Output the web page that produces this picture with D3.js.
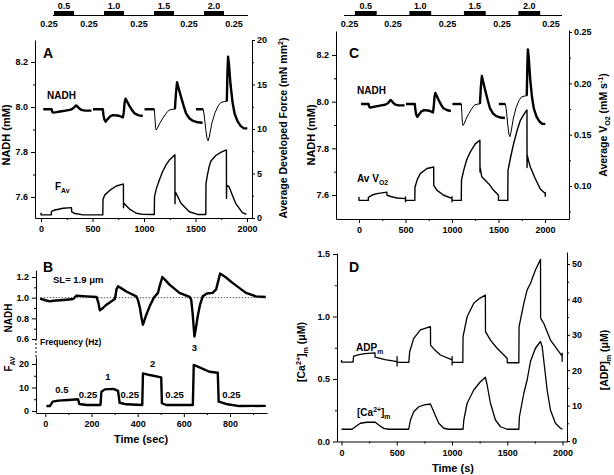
<!DOCTYPE html>
<html><head><meta charset="utf-8">
<script src="https://cdn.jsdelivr.net/npm/d3@7"></script>
<style>
body{margin:0;background:#fff;}
svg text{font-family:"Liberation Sans",Arial,sans-serif;font-weight:bold;fill:#000;}
</style></head><body>
<svg id="c" width="614" height="475"></svg>
<script>
// ---------------- DATA ----------------
const protocolFreqs = ["0.5","1.0","1.5","2.0"];
const protocolOn = [100,600,1100,1600];
const protocolOff = [300,800,1300,1800];
const restLabels = ["0.25","0.25","0.25","0.25","0.25"];
const restCenters = [50,450,950,1450,1900];

const timeTicks = [0,500,1000,1500,2000];
const timeMinor = [250,750,1250,1750];
const nadhTicks = [7.6,7.8,8.0,8.2];
const nadhMinor = [7.7,7.9,8.1];
const forceTicks = [0,5,10,15,20];
const forceMinor = [2.5,7.5,12.5,17.5];
const vo2Ticks = [0.10,0.15,0.20,0.25];
const vo2Minor = [0.075,0.125,0.175,0.225];
const caTicks = [0,0.5,1.0,1.5];
const caMinor = [0.25,0.75,1.25];
const adpTicks = [0,10,20,30,40,50];
const adpMinor = [5,15,25,35,45];
const bTimeTicks = [0,200,400,600,800];
const bTimeMinor = [100,300,500,700,900];
const bNadhTicks = [0.6,0.8,1.0,1.2];
const bNadhMinor = [0.7,0.9,1.1];
const bForceTicks = [0,10,20];
const bForceMinor = [5,15];

// NADH (mM), model trace shared by panels A and C (time s, value)
const nadhSlow = [
  [[22,7.99],[103,7.99],[110,7.978],[119,7.975],[150,7.977],[184,7.98],[240,7.984],[280,7.987],[305,7.992],[319,7.997],[338,8.007],[350,8.004],[370,7.994],[393,7.987],[425,7.984],[490,7.984]],
  [[505,7.99],[600,7.99],[606,7.965],[615,7.945],[628,7.935],[645,7.945],[670,7.958],[699,7.964],[740,7.962],[763,7.96],[795,7.954],[803,7.975],[812,8.02],[821,8.037],[835,8.025],[860,8.004],[885,7.985],[908,7.972],[950,7.963],[988,7.96]],
  [[1005,7.99],[1101,7.99]],
  [[1300,7.99],[1310,8.06],[1321,8.11],[1335,8.085],[1359,8.046],[1385,8.005],[1408,7.972],[1440,7.95],[1472,7.939],[1520,7.932],[1569,7.93]],
  [[1504,7.99],[1575,7.99]],
  [[1804,8.025],[1810,8.15],[1816,8.224],[1825,8.19],[1840,8.1],[1860,8.02],[1880,7.97],[1910,7.935],[1940,7.915],[1970,7.905],[2003,7.905]]
];
const nadhFast = [
  [[1101,7.99],[1106,7.95],[1112,7.91],[1118,7.898],[1130,7.905],[1150,7.925],[1182,7.95],[1215,7.972],[1246,7.987],[1285,7.99],[1300,7.99]],
  [[1575,7.99],[1585,7.96],[1600,7.9],[1612,7.86],[1623,7.85],[1635,7.87],[1660,7.93],[1690,7.975],[1720,8.005],[1746,8.02],[1780,8.024],[1804,8.025]]
];
// Average developed force (mN mm^-2), panel A
const forceAv = [[0,0.6],[1,0.35],[100,0.35],[102,0.75],[135,0.9],[216,1.1],[296,1.16],[298,0.7],[330,0.5],[409,0.35],[600,0.35],
  [602,2.1],[620,2.6],[667,3.1],[731,3.6],[795,3.8],[800,3.82],[801,1.16],[803,1.7],[830,1.35],[860,1.0],[924,0.53],[989,0.41],[1100,0.4],
  [1102,2.4],[1120,3.3],[1150,4.3],[1180,5.2],[1215,6.0],[1250,6.55],[1300,7.1],[1301,1.6],[1303,2.9],[1311,2.8],[1359,1.65],[1440,0.7],[1520,0.4],[1600,0.4],
  [1602,3.9],[1615,4.8],[1633,5.8],[1650,6.4],[1700,7.05],[1750,7.4],[1800,7.65],[1801,2.2],[1803,3.7],[1826,3.5],[1860,2.5],[1890,1.65],[1955,0.6],[1994,0.4]];
// Average VO2 (mM s^-1), panel C
const vo2Av = [[0,0.0893],[0,0.086],[100,0.086],[101,0.089],[150,0.0915],[193,0.0926],[300,0.094],[301,0.091],[350,0.0895],[409,0.0883],[500,0.0877],[500,0.0893],[500,0.0846],[500,0.086],[600,0.086],
  [602,0.099],[630,0.107],[659,0.112],[731,0.117],[803,0.1185],[804,0.1007],[839,0.0958],[911,0.091],[1000,0.088],[1000,0.0895],[1000,0.0846],[1000,0.086],[1100,0.086],
  [1102,0.1056],[1125,0.115],[1160,0.126],[1196,0.133],[1250,0.141],[1300,0.1446],[1301,0.1137],[1303,0.118],[1320,0.109],[1394,0.1023],[1448,0.0958],[1500,0.091],[1500,0.086],[1600,0.086],
  [1602,0.115],[1630,0.128],[1663,0.1414],[1700,0.154],[1735,0.164],[1788,0.172],[1806,0.174],[1807,0.118],[1809,0.13],[1825,0.124],[1842,0.1185],[1896,0.107],[1950,0.097],[2003,0.0926],[2003,0.0935],[2003,0.0895]];
// Panel D: [ADP]m (uM) and [Ca2+]m (uM)
const adpM = [[0,22.9],[0,22.3],[104,22.3],[110,24.0],[160,24.4],[213,24.7],[303,24.9],[304,23.7],[394,23.0],[503,22.4],[503,23.8],[503,21.2],[503,22.2],[609,22.2],
  [617,25.2],[654,29.0],[714,31.4],[805,32.3],[806,27.1],[835,26.0],[895,24.3],[1001,22.9],[1001,23.8],[1001,21.5],[1001,22.2],[1098,22.2],
  [1100,29.5],[1137,35.1],[1197,38.9],[1250,40.3],[1302,41.2],[1303,30.9],[1348,28.5],[1408,26.2],[1499,23.4],[1500,22.1],[1605,22.1],
  [1607,32.3],[1650,38.9],[1680,42.7],[1710,44.5],[1755,48.3],[1801,51.3],[1802,34.7],[1831,33.2],[1891,28.5],[1997,24.0],[1997,24.8],[1997,22.4]];
const caM = [[0,0.098],[95,0.098],[125,0.118],[170,0.146],[231,0.154],[306,0.154],[337,0.132],[382,0.105],[427,0.098],[608,0.098],
  [624,0.172],[654,0.238],[699,0.278],[750,0.293],[805,0.30],[835,0.238],[880,0.146],[926,0.106],[971,0.098],[1100,0.098],
  [1107,0.172],[1137,0.306],[1197,0.412],[1257,0.478],[1302,0.514],[1318,0.452],[1348,0.306],[1393,0.172],[1439,0.118],[1499,0.098],[1605,0.098],
  [1610,0.198],[1650,0.386],[1680,0.492],[1710,0.64],[1755,0.746],[1801,0.80],[1816,0.758],[1837,0.598],[1861,0.412],[1891,0.252],[1936,0.146],[1982,0.106],[2000,0.098]];
// Panel B: normalized NADH and F_AV vs time (sec)
const bNadh = [[-23,0.99],[0,0.975],[20,0.964],[35,0.97],[80,0.978],[121,0.987],[135,1.02],[179,1.013],[222,1.007],[230,0.95],[236,0.877],[250,0.9],[265,0.932],[301,0.987],
  [305,1.03],[308,1.078],[315,1.11],[330,1.09],[351,1.06],[394,1.013],[401,0.98],[410,0.9],[417,0.8],[423,0.738],[435,0.82],[452,0.916],[470,1.0],[488,1.046],
  [495,1.11],[507,1.2],[520,1.17],[538,1.126],[581,1.046],[625,1.007],[632,0.98],[638,0.85],[646,0.624],[652,0.7],[660,0.818],[670,0.93],[682,1.013],[700,1.04],[725,1.046],
  [740,1.08],[747,1.143],[757,1.233],[780,1.2],[811,1.143],[869,1.046],[912,1.013],[955,1.007]];
const bForce = [[5,2.1],[20,2.1],[32,3.96],[56,4.4],[100,4.7],[142,5.0],[147,3.0],[179,2.55],[239,2.55],[243,8.2],[258,9.2],[294,9.4],[315,8.6],[322,3.5],[351,2.85],[420,2.55],
  [423,16.0],[452,15.3],[502,14.3],[505,3.3],[524,2.55],[639,2.55],[643,19.6],[668,18.6],[711,16.7],[747,16.3],[751,4.0],[783,3.0],[840,2.1],[955,2.2]];
const bFreqText = ["0.5","0.25","1","0.25","2","0.25","3","0.25"];
const bFreqT = [72,185,271,366,465,560,646,806];
const bFreqF = [7.5,5.5,13.3,5.5,18.8,5.5,25.6,5.5];
const bBaseline = 1.0;

// ---------------- DRAW ----------------
const svg = d3.select('#c');
const FONT = '"Liberation Sans",Arial,sans-serif';
function fit(d0,d1,p0,p1,lo,hi){
  const s = d3.scaleLinear().domain([d0,d1]).range([p0,p1]);
  return d3.scaleLinear().domain([s.invert(lo), s.invert(hi)]).range([lo,hi]);
}
function drawAxis(kind, scale, pos, majors, minors, fmt, opt={}){
  const gen = kind==='left'?d3.axisLeft:kind==='right'?d3.axisRight:d3.axisBottom;
  const tr = kind==='bottom'?`translate(0,${pos})`:`translate(${pos},0)`;
  const g = svg.append('g').attr('transform',tr);
  g.call(gen(scale).tickValues(majors).tickFormat(fmt).tickSize(opt.ts||4).tickSizeOuter(0).tickPadding(opt.pad||3));
  g.attr('font-family',FONT).attr('font-size',9);
  g.selectAll('text').attr('font-size',9).attr('font-weight','bold');
  g.selectAll('line,path').attr('stroke','#000').attr('stroke-width',1);
  if(minors){
    const gm = svg.append('g').attr('transform',tr);
    gm.call(gen(scale).tickValues(minors).tickFormat('').tickSize(2).tickSizeOuter(0));
    gm.select('.domain').remove();
    gm.selectAll('line').attr('stroke','#000');
  }
  return g;
}
function rich(x,y,parts,size,opt={}){
  const t = svg.append('text').attr('font-size',size).attr('text-anchor',opt.anchor||'start')
    .attr('font-weight',opt.weight||'bold')
    .attr('transform', opt.rotate?`translate(${x},${y}) rotate(-90)`:`translate(${x},${y})`);
  let cur=0;
  parts.forEach(p=>{
    const [s,k] = typeof p==='string'?[p,'n']:p;
    const off = k==='sub'?0.3*size:(k==='sup'?-0.4*size:0);
    t.append('tspan').text(s).attr('dy',off-cur).attr('font-size',k==='n'?size:size*0.68);
    cur=off;
  });
  return t;
}
function trace(data,x,y,w){
  svg.append('path').datum(data).attr('fill','none').attr('stroke','#000').attr('stroke-width',w)
    .attr('stroke-linejoin','round').attr('d',d3.line().x(d=>x(d[0])).y(d=>y(d[1])));
}
const f1=d3.format('.1f'), f2=d3.format('.2f'), f0=d3.format('d');

// ---- protocol bars ----
function protocol(scale, l0, l1){
  svg.append('line').attr('x1',scale(l0)).attr('x2',scale(l1)).attr('y1',15.5).attr('y2',15.5).attr('stroke','#000');
  protocolOn.forEach((on,i)=>{
    svg.append('rect').attr('x',scale(on)).attr('width',scale(protocolOff[i])-scale(on)).attr('y',11).attr('height',5).attr('fill','#000');
    svg.append('text').attr('x',(scale(on)+scale(protocolOff[i]))/2).attr('y',9).attr('text-anchor','middle').attr('font-size',9).text(protocolFreqs[i]);
  });
  restCenters.forEach((c,i)=>{
    svg.append('text').attr('x',scale(c)).attr('y',27).attr('text-anchor','middle').attr('font-size',9).text(restLabels[i]);
  });
}
protocol(d3.scaleLinear().domain([0,2000]).range([44,244]), 90, 2040);
protocol(d3.scaleLinear().domain([0,2000]).range([344,562]), 0, 2000);

// ---- Panel A ----
const xA = fit(0,2000,41,247,35,252);
const yA = fit(7.6,8.2,197,62,218,40);
const yAF = fit(0,20,218,40,218,40);
drawAxis('bottom',xA,218,timeTicks,timeMinor,f0,{pad:4});
drawAxis('left',yA,35,nadhTicks,nadhMinor,f1);
drawAxis('right',yAF,252,forceTicks,forceMinor,f0,{ts:3,pad:2});
nadhSlow.forEach(s=>trace(s,xA,yA,2.4));
nadhFast.forEach(s=>trace(s,xA,yA,1));
trace(forceAv,xA,yAF,1.4);
rich(43,58,['A'],14);
rich(47,99,['NADH'],10);
rich(55,190,['F',['Av','sub']],10);
rich(9.5,135,['NADH (mM)'],11,{rotate:true,anchor:'middle'});
rich(287,128,['Average Developed Force (mN mm',['2','sup'],')'],10.5,{rotate:true,anchor:'middle'});

// ---- Panel C ----
const xC = fit(0,2000,359,545,336,569);
const yC = fit(7.6,8.2,195,55,219,31);
const yCV = fit(0.10,0.25,186,32,219,30);
drawAxis('bottom',xC,219,timeTicks,timeMinor,f0,{pad:4});
drawAxis('left',yC,336,nadhTicks,nadhMinor,f1);
drawAxis('right',yCV,569,vo2Ticks,vo2Minor,f2,{ts:3,pad:2});
nadhSlow.forEach(s=>trace(s,xC,yC,2.4));
nadhFast.forEach(s=>trace(s,xC,yC,1));
trace(vo2Av,xC,yCV,1.4);
rich(349,58,['C'],14);
rich(357,94,['NADH'],10);
rich(357,182,['Av V',['O2','sub']],10);
rich(315,135,['NADH (mM)'],11,{rotate:true,anchor:'middle'});
rich(607,125,['Average V',['O2','sub'],' (mM s',['-1','sup'],')'],10.5,{rotate:true,anchor:'middle'});

// ---- Panel B ----
const xB = fit(0,800,45.3,230,36,267);
const yBN = fit(0.6,1.2,339,277,339,270);
const yBF = fit(0,20,411,364,413,357);
drawAxis('bottom',xB,413,bTimeTicks,bTimeMinor,f0,{pad:4});
drawAxis('left',yBN,36,bNadhTicks,bNadhMinor,f1);
drawAxis('left',yBF,36,bForceTicks,bForceMinor,f0);
svg.append('line').attr('x1',36).attr('x2',36).attr('y1',339).attr('y2',357).attr('stroke','#000').attr('stroke-dasharray','2,2');
svg.append('line').attr('x1',xB(-20)).attr('x2',xB(955)).attr('y1',yBN(bBaseline)).attr('y2',yBN(bBaseline))
  .attr('stroke','#555').attr('stroke-width',1).attr('stroke-dasharray','1.5,1.5');
trace(bNadh,xB,yBN,2.4);
trace(bForce,xB,yBF,2.4);
bFreqText.forEach((s,i)=>{
  svg.append('text').attr('x',xB(bFreqT[i])).attr('y',yBF(bFreqF[i])).attr('text-anchor','middle').attr('font-size',9.5).text(s);
});
rich(43,272,['B'],14);
rich(53,283,['SL= 1.9 \u03bcm'],9.5);
rich(40,345,['Frequency (Hz)'],8.5,{weight:'normal'});
rich(12,318,['NADH'],10,{rotate:true,anchor:'middle'});
rich(12,364,['F',['AV','sub']],10,{rotate:true,anchor:'middle'});
rich(141,443,['Time (sec)'],11,{anchor:'middle'});

// ---- Panel D ----
const xD = fit(0,2000,341.5,562.5,337,567);
const yD = fit(0,1.5,441.5,254,441.5,253);
const yDA = fit(0,50,441,264,441.5,252);
drawAxis('bottom',xD,441.5,timeTicks,timeMinor,f0,{pad:4});
drawAxis('left',yD,337,caTicks,caMinor,f1);
drawAxis('right',yDA,567,adpTicks,adpMinor,f0,{ts:3,pad:2});
trace(adpM,xD,yDA,1.3);
trace(caM,xD,yD,1.3);
rich(349,272,['D'],14);
rich(356,351,['ADP',['m','sub']],10);
rich(357,416,['[Ca',['2+','sup'],']',['m','sub']],10);
rich(305,352,['[Ca',['2+','sup'],']',['m','sub'],'  (\u03bcM)'],10.5,{rotate:true,anchor:'middle'});
rich(608,360,['[ADP]',['m','sub'],' (\u03bcM)'],10.5,{rotate:true,anchor:'middle'});
rich(453,472,['Time (s)'],11,{anchor:'middle'});
</script>
</body></html>
